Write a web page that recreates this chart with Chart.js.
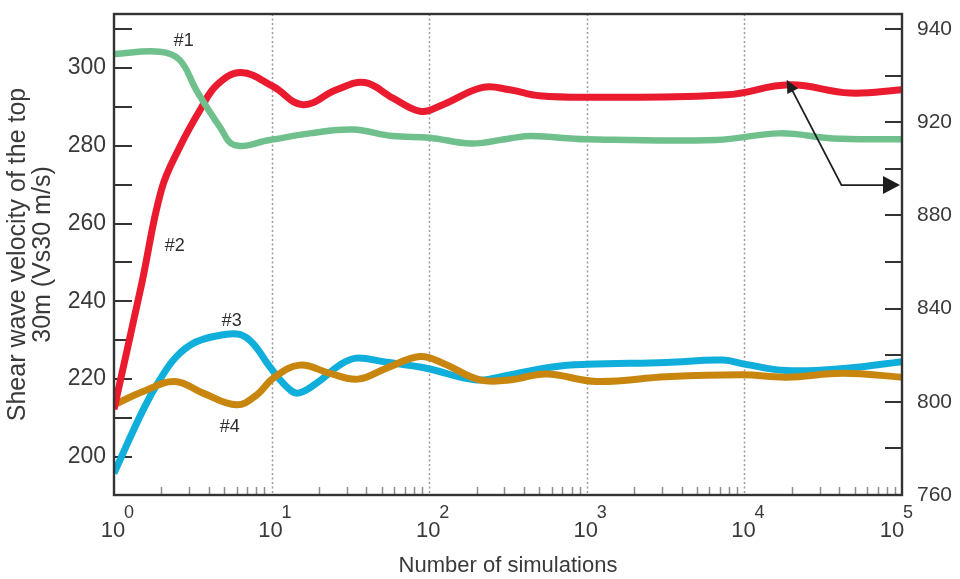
<!DOCTYPE html>
<html>
<head>
<meta charset="utf-8">
<script src="https://cdn.jsdelivr.net/npm/chart.js@4/dist/chart.umd.min.js"></script>
<style>
  html, body { margin: 0; padding: 0; background: #ffffff; }
  #wrap { width: 960px; height: 579px; }
</style>
</head>
<body>
<div id="wrap"><canvas id="chart" width="960" height="579"></canvas></div>
<script>
// ---- data ----
// #1 : left axis (m/s)
const sims1 = [1, 1.95, 2.61, 3.33, 4.69, 5.83, 9.73, 17.5, 32.7, 58.7, 100, 185, 324, 445, 995, 6640, 16750, 36300, 100000];
const vs1   = [303.6, 304.2, 302.1, 294.3, 284.9, 280.2, 281.5, 283.2, 284.2, 282.5, 282.1, 280.6, 281.9, 282.5, 281.7, 281.5, 283.2, 281.9, 281.7];

// #2 : right axis
const sims2 = [1, 1.5, 2.0, 2.6, 3.5, 4.5, 6.4, 10.2, 15.8, 25.8, 39, 58.9, 89.2, 122, 219, 324, 502, 1208, 7690, 19400, 46600, 100000];
const vs2   = [796.8, 850.8, 891, 909, 925, 936, 941.3, 935.3, 927.5, 933.9, 937, 930.3, 924.6, 927.5, 934.9, 933.9, 931.3, 930.7, 931.7, 936, 932.5, 933.9];

// #3 : left axis (m/s)
const sims3 = [1, 1.53, 1.95, 2.49, 3.33, 4.92, 6.27, 7.61, 9.73, 12.4, 14.7, 19.2, 27, 34.4, 50.9, 96, 199, 324, 622, 1000, 3180, 7320, 10200, 18400, 44600, 100000];
const vs3   = [195.8, 212.1, 219.8, 225.8, 229.6, 231.4, 231.5, 229.2, 223.2, 218.1, 216.4, 218.9, 223.6, 225.4, 224.5, 222.8, 219.8, 221.1, 223.2, 223.8, 224.3, 224.9, 223.8, 222.2, 222.8, 224.5];

// #4 : left axis (m/s)
const sims4 = [1, 1.53, 2.43, 3.67, 5.98, 8.03, 10.2, 15.1, 23.4, 35.3, 53.5, 87.1, 122, 209, 324, 554, 1150, 3200, 9800, 18500, 42300, 100000];
const vs4   = [213.4, 216.8, 219.4, 216.4, 213.4, 215.9, 220.2, 223.6, 221.5, 220.0, 222.8, 225.8, 224.1, 219.8, 219.8, 221.3, 219.4, 220.6, 221.1, 220.5, 221.5, 220.5];

// axis ticks
const xTickValues    = [1, 10, 100, 1000, 10000, 100000];
const xTickExponents = ['0', '1', '2', '3', '4', '5'];
const leftTickValues  = [200, 220, 240, 260, 280, 300];
const leftTickLabels  = ['200', '220', '240', '260', '280', '300'];
const rightTickValues = [760, 800, 840, 880, 920, 960];
const rightTickLabels = ['760', '800', '840', '880', '920', '940'];

const curveNames = ['#1', '#2', '#3', '#4'];

// ---- helpers ----
const pts = (xs, ys) => xs.map((x, i) => ({ x: x, y: ys[i] }));
const FONT = "'Liberation Sans', Arial, Helvetica, sans-serif";
const TEXT = '#3a3a3a';

function line(color, data, axis, width) {
  return {
    data: data,
    yAxisID: axis,
    borderColor: color,
    borderWidth: width,
    pointRadius: 0,
    pointHoverRadius: 0,
    fill: false,
    tension: 0.4,
    borderJoinStyle: 'round',
    borderCapStyle: 'butt'
  };
}

// decorations: dotted decade lines, inward ticks, frame, superscript labels, curve names, arrow
const decor = {
  id: 'decor',
  beforeDatasetsDraw(chart, args, opts) {
    const { ctx, chartArea: a, scales } = chart;
    const xs = scales.x, yl = scales.y, yr = scales.y1;
    ctx.save();
    // dotted lines at decades
    ctx.strokeStyle = '#9b9b9b';
    ctx.lineWidth = 1.5;
    ctx.setLineDash([2, 2.5]);
    xTickValues.slice(1, -1).forEach(v => {
      const px = Math.round(xs.getPixelForValue(v)) + 0.5;
      ctx.beginPath(); ctx.moveTo(px, a.top); ctx.lineTo(px, a.bottom); ctx.stroke();
    });
    ctx.setLineDash([]);
    // minor ticks along the bottom
    ctx.strokeStyle = '#8c8c8c';
    ctx.lineWidth = 1.5;
    xTickValues.slice(0, -1).forEach(d => {
      for (let k = 2; k <= 9; k++) {
        const px = Math.round(xs.getPixelForValue(k * d)) + 0.5;
        ctx.beginPath(); ctx.moveTo(px, a.bottom); ctx.lineTo(px, a.bottom - 8); ctx.stroke();
      }
    });
    // inward ticks, left axis every 10
    ctx.strokeStyle = '#333333';
    ctx.lineWidth = 2;
    for (let v = 200; v <= yl.max; v += 10) {
      const py = Math.round(yl.getPixelForValue(v));
      ctx.beginPath(); ctx.moveTo(a.left, py); ctx.lineTo(a.left + 18, py); ctx.stroke();
    }
    // inward ticks, right axis every 20
    for (let v = 760; v <= yr.max; v += 20) {
      const py = Math.round(yr.getPixelForValue(v));
      ctx.beginPath(); ctx.moveTo(a.right - 17, py); ctx.lineTo(a.right, py); ctx.stroke();
    }
    ctx.restore();
  },
  afterDatasetsDraw(chart, args, opts) {
    const { ctx, chartArea: a, scales } = chart;
    const xs = scales.x, yl = scales.y, yr = scales.y1;
    ctx.save();
    // frame
    ctx.strokeStyle = '#333333';
    ctx.lineWidth = 2.4;
    ctx.strokeRect(a.left, a.top, a.right - a.left, a.bottom - a.top);

    // x tick labels: 10 with superscript exponent
    ctx.fillStyle = TEXT;
    ctx.textBaseline = 'alphabetic';
    xTickValues.forEach((v, i) => {
      const shift = (i === xTickValues.length - 1) ? -9 : 0;
      const px = xs.getPixelForValue(v) + shift;
      ctx.font = '22px ' + FONT;
      ctx.textAlign = 'center';
      ctx.fillText('10', px - 1, a.bottom + 42);
      ctx.font = '18px ' + FONT;
      ctx.textAlign = 'left';
      ctx.fillText(xTickExponents[i], px + 10, a.bottom + 23);
    });

    // curve names
    ctx.font = '18px ' + FONT;
    ctx.textAlign = 'center';
    ctx.textBaseline = 'middle';
    ctx.fillStyle = '#2e2e2e';
    opts.names.forEach((n, i) => {
      ctx.fillText(curveNames[i], xs.getPixelForValue(n.sims), yl.getPixelForValue(n.vs));
    });

    // arrow pointing from curve #2 to its axis
    const ar = opts.arrow;
    const p0 = { x: xs.getPixelForValue(ar.from[0]), y: yr.getPixelForValue(ar.from[1]) };
    const p1 = { x: xs.getPixelForValue(ar.bend[0]), y: yr.getPixelForValue(ar.bend[1]) };
    const p2 = { x: a.right - 2, y: p1.y };
    ctx.strokeStyle = '#1e1e1e';
    ctx.fillStyle = '#1e1e1e';
    ctx.lineWidth = 1.8;
    const dx = p0.x - p1.x, dy = p0.y - p1.y, len = Math.hypot(dx, dy);
    const ux = dx / len, uy = dy / len;
    ctx.beginPath();
    ctx.moveTo(p0.x - ux * 9, p0.y - uy * 9);
    ctx.lineTo(p1.x, p1.y);
    ctx.lineTo(p2.x - 15, p2.y);
    ctx.stroke();
    // head at the curve
    ctx.beginPath();
    ctx.moveTo(p0.x, p0.y);
    ctx.lineTo(p0.x - ux * 13 - uy * 6, p0.y - uy * 13 + ux * 6);
    ctx.lineTo(p0.x - ux * 13 + uy * 6, p0.y - uy * 13 - ux * 6);
    ctx.closePath(); ctx.fill();
    // head at the axis
    ctx.beginPath();
    ctx.moveTo(p2.x, p2.y);
    ctx.lineTo(p2.x - 17, p2.y - 9);
    ctx.lineTo(p2.x - 17, p2.y + 9);
    ctx.closePath(); ctx.fill();
    ctx.restore();
  }
};

new Chart(document.getElementById('chart'), {
  type: 'line',
  data: {
    datasets: [
      line('#6fc08d', pts(sims1, vs1), 'y', 6.5),
      line('#ea1a2f', pts(sims2, vs2), 'y1', 7),
      line('#c9860f', pts(sims4, vs4), 'y', 7),
      line('#10aedb', pts(sims3, vs3), 'y', 7)
    ]
  },
  options: {
    responsive: false,
    devicePixelRatio: 1,
    animation: false,
    events: [],
    layout: { padding: { top: 14, left: 0, right: 0, bottom: 0 } },
    plugins: {
      legend: { display: false },
      tooltip: { enabled: false },
      decor: {
        names: [
          { sims: 2.77, vs: 306.9 },
          { sims: 2.43, vs: 254.2 },
          { sims: 5.58, vs: 235.0 },
          { sims: 5.42, vs: 207.7 }
        ],
        arrow: { from: [18550, 938.2], bend: [41300, 893.0] }
      }
    },
    scales: {
      x: {
        type: 'logarithmic',
        min: 1,
        max: 100000,
        grid: { display: false },
        border: { display: false },
        ticks: { display: false },
        title: {
          display: true,
          text: 'Number of simulations',
          color: TEXT,
          font: { family: FONT, size: 22 },
          padding: { top: 0, bottom: 0 }
        },
        afterFit(s) { s.height = 84; s.paddingLeft = 0; s.paddingRight = 0; }
      },
      y: {
        type: 'linear',
        position: 'left',
        min: 190.2,
        max: 313.9,
        grid: { display: false, drawTicks: false },
        border: { display: false },
        afterBuildTicks(s) { s.ticks = leftTickValues.map(v => ({ value: v })); },
        ticks: {
          color: TEXT,
          padding: 8,
          font: { family: FONT, size: 23 },
          callback: (v, i) => leftTickLabels[i]
        },
        title: {
          display: true,
          text: ['Shear wave velocity of the top', '30m (Vs30 m/s)'],
          color: TEXT,
          font: { family: FONT, size: 25, lineHeight: 1.0 },
          padding: { top: 6, bottom: 0 }
        },
        afterFit(s) { s.width = 114; s.paddingTop = 0; s.paddingBottom = 0; }
      },
      y1: {
        type: 'linear',
        position: 'right',
        min: 760,
        max: 966.4,
        grid: { display: false, drawTicks: false },
        border: { display: false },
        afterBuildTicks(s) { s.ticks = rightTickValues.map(v => ({ value: v })); },
        ticks: {
          color: TEXT,
          padding: 15,
          font: { family: FONT, size: 21 },
          callback: (v, i) => rightTickLabels[i]
        },
        afterFit(s) { s.width = 58; s.paddingTop = 0; s.paddingBottom = 0; }
      }
    }
  },
  plugins: [decor]
});
</script>
</body>
</html>
